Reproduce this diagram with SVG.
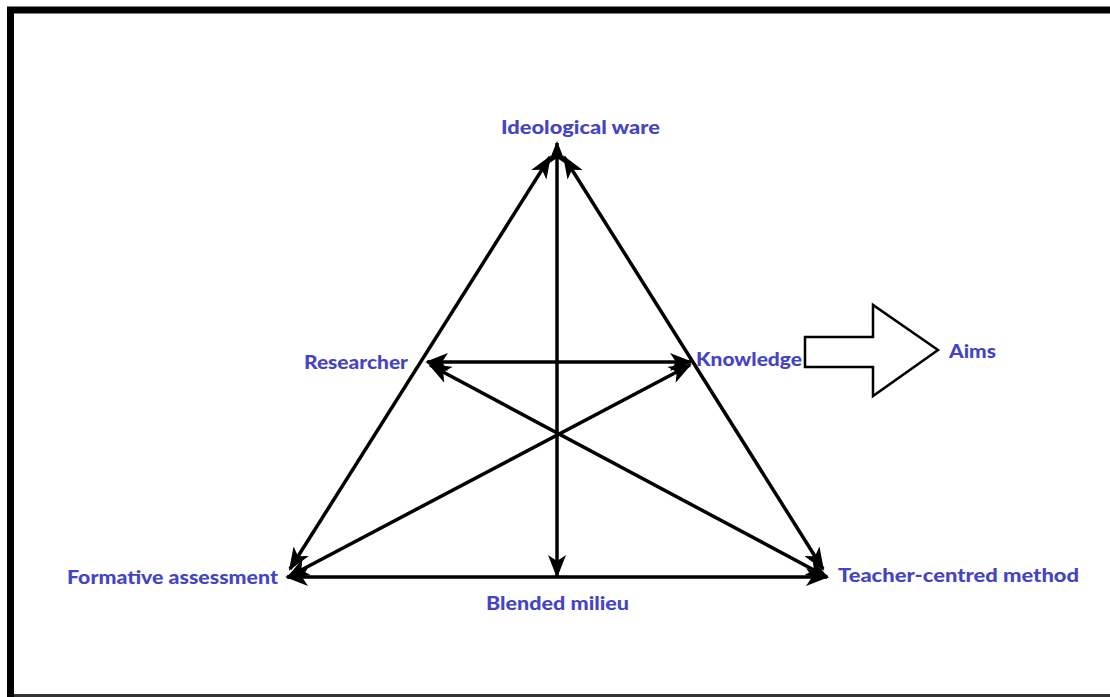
<svg xmlns="http://www.w3.org/2000/svg" width="1110" height="697" viewBox="0 0 1110 697">
<style>
.lbl{font-family:Lato,"Open Sans","Liberation Sans",sans-serif;font-weight:900;font-size:18px;fill:#4545c4}
.ln{stroke:#000;stroke-width:3.5;fill:none;marker-start:url(#ah);marker-end:url(#ah)}
</style>
<defs>
<marker id="ah" markerUnits="userSpaceOnUse" markerWidth="24" markerHeight="18" refX="21" refY="9" orient="auto-start-reverse" viewBox="0 0 24 18">
<path d="M0,0 L23,9 L0,18 L6,9 z" fill="#000"/>
</marker>
</defs>
<rect x="0" y="0" width="1110" height="697" fill="#fff"/>
<g id="frame">
<path d="M10.5,697 V10 H1110" fill="none" stroke="#000" stroke-width="7"/>
<line x1="14" y1="695.5" x2="1110" y2="695.5" stroke="#333" stroke-width="3"/>
</g>
<g id="connectors">
<line class="ln" x1="557" y1="576" x2="557" y2="143"/>
<line class="ln" x1="290" y1="569" x2="550" y2="157"/>
<line class="ln" x1="823" y1="569" x2="564" y2="157"/>
<line class="ln" x1="427" y1="362" x2="691" y2="362"/>
<line class="ln" x1="430" y1="365" x2="827" y2="577"/>
<line class="ln" x1="690" y1="365" x2="288" y2="577"/>
<line class="ln" x1="287" y1="577" x2="827" y2="577"/>
</g>
<g id="node-ideological"><text class="lbl" x="501" y="134" textLength="159" lengthAdjust="spacingAndGlyphs">Ideological ware</text></g>
<g id="node-researcher"><text class="lbl" x="304" y="369" textLength="104" lengthAdjust="spacingAndGlyphs">Researcher</text></g>
<g id="node-knowledge"><text class="lbl" x="696" y="366" textLength="106" lengthAdjust="spacingAndGlyphs">Knowledge</text></g>
<g id="node-formative"><text class="lbl" x="67" y="584" textLength="211" lengthAdjust="spacingAndGlyphs">Formative assessment</text></g>
<g id="node-teacher"><text class="lbl" x="838" y="582" textLength="241" lengthAdjust="spacingAndGlyphs">Teacher-centred method</text></g>
<g id="node-blended"><text class="lbl" x="486" y="610" textLength="143" lengthAdjust="spacingAndGlyphs">Blended milieu</text></g>
<g id="node-aims">
<path d="M805,337 H873 V305 L938,350 L873,396 V367 H805 Z" fill="#fff" stroke="#000" stroke-width="2.5"/>
<text class="lbl" x="949" y="358" textLength="47" lengthAdjust="spacingAndGlyphs">Aims</text>
</g>
</svg>
